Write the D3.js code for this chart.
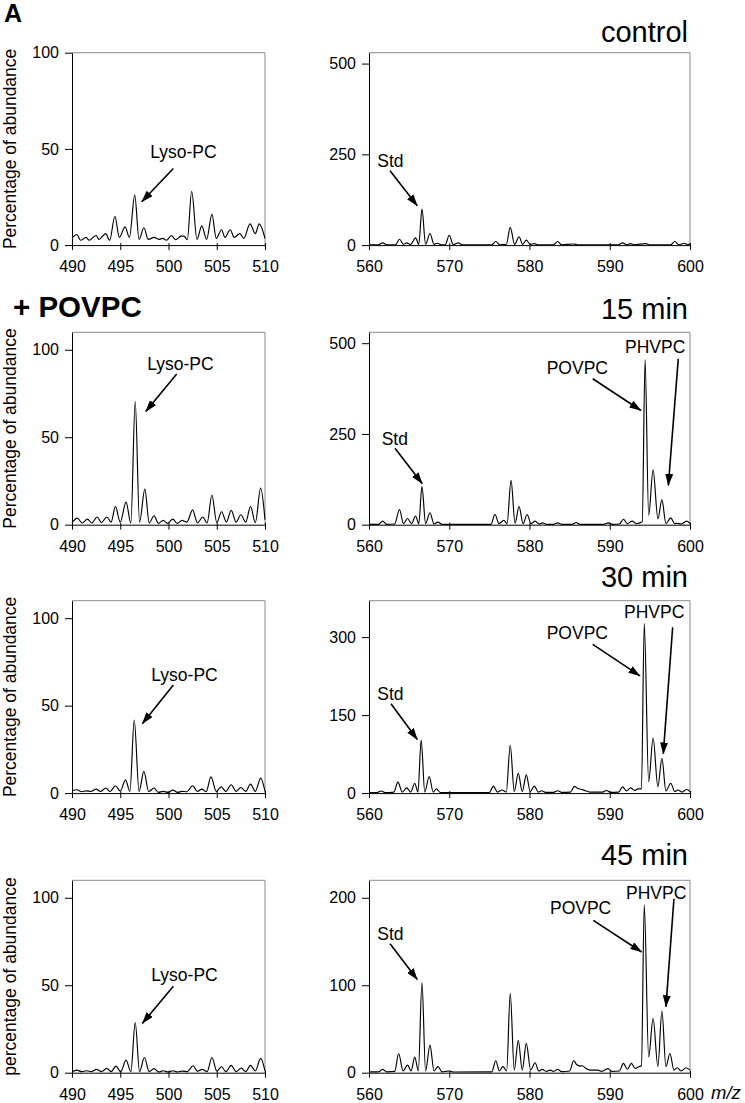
<!DOCTYPE html>
<html><head><meta charset="utf-8">
<script src="https://cdn.jsdelivr.net/npm/d3@7"></script>
<style>
body{margin:0;background:#fff}
svg{display:block}
text{font-family:"Liberation Sans",Arial,Helvetica,sans-serif;fill:#000}
</style>
</head><body>
<svg id="chart" width="745" height="1103"></svg>
<script>
// ---------------- data ----------------
const leftXTicks = [490, 495, 500, 505, 510];
const rightXTicks = [560, 570, 580, 590, 600];
const leftYTicks = [0, 50, 100];
const rightYTicksControl = [0, 250, 500];
const rightYTicks15 = [0, 250, 500];
const rightYTicks30 = [0, 150, 300];
const rightYTicks45 = [0, 100, 200];
const leftYMax = [100, 110, 110, 110];
const rightYMax = [530, 530, 370, 220];
const panelTitles = ["control", "15 min", "30 min", "45 min"];
const yAxisLabels = ["Percentage of abundance", "Percentage of abundance", "Percentage of abundance", "percentage of abundance"];

// spectra: [m/z, abundance] (apexes and valleys)
const lysoControl = [[490,3.5],[490.5,5.5],[490.9,2.5],[491.45,4],[491.8,2.5],[492.3,4.5],[492.5,5],[492.8,3],[493.5,6],[493.9,2.5],[494.45,15],[494.9,4],[495.5,9.5],[495.95,4],[496.5,26],[496.95,3],[497.45,9],[497.9,3],[498.5,4],[499,3],[499.4,3.5],[499.8,2.5],[500.3,5],[500.75,2.8],[501.3,4.7],[501.6,4.7],[501.95,2.8],[502.4,28],[502.95,3],[503.45,10],[503.95,3],[504.5,16],[504.95,3.5],[505.5,8],[505.85,4],[506.4,8],[506.8,4],[507.4,6],[507.8,3.5],[508.45,11],[509.0,6],[509.4,11],[510,3.5]];
const lyso15 = [[490,1],[490.55,3.8],[491.05,1],[491.6,3.2],[492.05,1],[492.6,4.4],[493.05,1.2],[493.6,4.4],[494.05,1.5],[494.5,10.4],[495.0,1.5],[495.6,12.9],[496.1,1],[496.55,70.6],[497.0,1.5],[497.55,20.3],[498.0,1],[498.5,5.1],[498.95,0.8],[499.45,2.5],[499.9,0.8],[500.45,3.2],[500.9,0.8],[501.4,2.5],[501.9,1.5],[502.5,8.5],[503.0,1],[503.55,4.4],[504.0,1],[504.5,17],[505.0,1.2],[505.5,7.4],[506.0,1.5],[506.5,8.2],[507.0,1.5],[507.5,5.7],[508.0,1.5],[508.5,10.4],[509.0,1.2],[509.55,20.9],[510,2.8]];
const lyso30 = [[490,1.3],[490.5,1.9],[491,0.8],[491.5,1.3],[491.95,0.9],[492.5,2.3],[492.95,0.9],[493.5,2.9],[493.95,0.9],[494.5,4.2],[495.0,1.2],[495.55,7.6],[496.0,1],[496.45,41.8],[496.95,1],[497.45,12.4],[497.95,0.9],[498.5,2.9],[498.95,0.4],[499.45,1],[499.95,0.4],[500.45,1.7],[500.95,0.4],[501.4,1],[501.9,0.8],[502.5,4.2],[503.0,0.9],[503.45,2.3],[503.9,0.8],[504.4,9.3],[504.95,1],[505.45,3.6],[505.95,1],[506.5,4.8],[507.0,1],[507.5,3.2],[508.0,1],[508.5,5.1],[509.0,1],[509.55,8.6],[510,1]];
const lyso45 = [[490,0.6],[490.5,1.5],[491,0.6],[491.5,1.1],[492,0.6],[492.55,1.9],[493.05,0.6],[493.6,2.5],[494.05,0.6],[494.55,3.8],[495.05,0.6],[495.6,7.2],[496.1,0.6],[496.55,28.7],[497.0,0.6],[497.5,8.7],[498.0,0.6],[498.5,2.3],[499.0,0.4],[499.45,1.1],[499.95,0.4],[500.45,1.1],[500.95,0.4],[501.45,0.9],[501.95,0.6],[502.55,4],[503.0,0.8],[503.5,1.9],[504.0,0.6],[504.5,8.7],[505.0,1],[505.5,3.4],[505.95,0.6],[506.5,4.2],[507.0,0.6],[507.55,2.7],[508.0,0.6],[508.5,4.2],[509.0,1],[509.55,8.2],[510,1]];

const pcControl = [[560,1],[561.2,1],[561.7,6],[562.2,1],[563.3,1],[563.8,16],[564.3,2],[564.7,6],[565.2,2],[565.8,20],[566.2,2],[566.6,99],[567.05,2],[567.6,32],[568.1,2],[568.5,5],[569,1],[569.5,1],[570.0,27],[570.5,1],[571.1,6],[571.6,1],[575.3,1],[575.8,10],[576.3,1],[576.8,2],[577.1,1],[577.6,49],[578.15,2],[578.7,23],[579.15,2],[579.6,14],[580.1,2],[580.6,4],[581.1,1],[583,1],[583.5,10],[584,1],[585.5,3],[586,1],[591.1,1],[591.6,6],[592.1,1],[592.6,4],[593,1],[594.5,4],[595,1],[597.6,1],[598.1,10],[598.6,1],[599.3,5],[599.7,1],[600,4]];
const pc15 = [[560,1],[561.2,1],[561.7,10],[562.2,1],[563.2,2],[563.8,42],[564.3,3],[564.8,17],[565.3,3],[565.8,24],[566.2,3],[566.6,105],[567.05,3],[567.6,33],[568.1,2],[568.6,7],[569.1,1],[575.2,1],[575.7,28],[576.2,3],[576.8,12],[577.2,3],[577.7,122],[578.2,4],[578.7,50],[579.2,3],[579.7,28],[580.2,3],[580.7,10],[581.2,2],[581.6,5],[582.1,1],[583,1],[583.5,5],[584,1],[585.3,1],[585.8,6],[586.3,1],[589.3,1],[589.8,5],[590.3,1],[591.2,2],[591.7,15],[592.2,3],[592.8,10],[593.3,3],[594.05,8],[594.4,454],[594.85,26],[595.4,151],[596.0,16],[596.5,69],[597.0,3],[597.6,19],[598.1,3],[598.4,4],[598.9,2],[599.6,10],[600,3]];
const pc30 = [[560,1],[561,1],[561.5,4],[562,1],[563.1,2],[563.6,21],[564.15,2],[564.7,10],[565.2,2],[565.7,19],[566.1,2],[566.5,102],[566.95,2],[567.5,32],[568,2],[568.4,8],[568.9,1],[575,1],[575.5,13.5],[576.0,2],[576.6,6],[577.1,2],[577.6,92],[578.1,3],[578.6,38],[579.1,3],[579.6,35],[580.1,3],[580.6,13.5],[581.1,2],[581.5,4.5],[582,1.5],[583,1.5],[583.5,4.5],[584,1.5],[585.1,2],[585.6,13],[586,9],[586.3,8],[587,4.5],[587.5,2],[589.1,2],[589.6,5],[590.1,1.5],[591.1,2],[591.6,12],[592.1,4],[592.6,10],[593.1,5],[593.5,8],[593.95,8],[594.3,326],[594.85,22],[595.4,106],[596.0,12],[596.5,67],[597.0,4],[597.6,19],[598.1,3],[598.5,6],[599,2],[599.6,7],[600,3]];
const pc45 = [[560,1],[561.2,1],[561.7,3.8],[562.2,1],[563.2,1.5],[563.7,21.7],[564.25,2],[564.8,8.8],[565.25,2],[565.7,18],[566.15,2],[566.6,103],[567.05,2],[567.6,31.6],[568.1,2],[568.6,6.9],[569.1,1],[569.6,1.5],[570,2],[570.5,0.8],[575.3,1],[575.8,13.7],[576.25,2],[576.7,6.9],[577.15,2],[577.6,90.7],[578.1,3],[578.6,37],[579.1,3],[579.6,33.5],[580.15,3],[580.7,11.4],[581.15,2],[581.6,3.8],[582.1,1.5],[582.6,3],[583.0,1.5],[583.5,3.8],[584,1.2],[585.0,2],[585.5,13.7],[585.9,9],[586.3,7.6],[586.6,8],[587,5],[587.6,3],[588.5,3],[589,1.5],[589.8,4.6],[590.3,1.5],[591.2,2],[591.7,10.7],[592.2,4],[592.7,10.7],[593.15,5],[593.6,6.9],[593.95,8],[594.3,192],[594.85,18],[595.4,62],[596.0,7],[596.5,70.5],[597.0,7],[597.5,22],[598.0,3],[598.4,5.7],[598.9,2],[599.5,5.7],[600,3]];

// annotations: [label, textMz, textVal, fromMz, fromVal, toMz, toVal]
const lysoNotes = [
  ["Lyso-PC", 501.55, 45.2, 500.5, 39.8, 497.22, 22.5],
  ["Lyso-PC", 501.24, 88.7, 500.85, 86.2, 497.64, 64.7],
  ["Lyso-PC", 501.66, 64.1, 500.5, 61.8, 497.29, 39.7],
  ["Lyso-PC", 501.66, 52.5, 500.5, 49.4, 497.29, 28.2]
];
const stdNotes = [
  ["Std", 561.03, 215.5, 562.62, 204.5, 566.02, 108.2],
  ["Std", 561.58, 218.3, 563.24, 210.9, 566.64, 112.9],
  ["Std", 561.03, 178.4, 562.74, 172, 566.02, 103],
  ["Std", 561.03, 151.3, 562.62, 147.5, 566.02, 106.5]
];
const povpcNotes = [
  null,
  ["POVPC", 582.14, 413.8, 587.88, 402, 593.89, 314.7],
  ["POVPC", 582.14, 295.8, 587.88, 286, 593.77, 225.4],
  ["POVPC", 582.55, 181, 587.95, 174.1, 593.98, 138]
];
const phvpcNotes = [
  null,
  ["PHVPC", 591.9, 472.5, 598.54, 457, 597.3, 108.2],
  ["PHVPC", 591.78, 336.4, 597.84, 319, 596.67, 75.4],
  ["PHVPC", 592.03, 198.9, 598.0, 198.9, 597.0, 75.3]
];

const leftSpectra = [lysoControl, lyso15, lyso30, lyso45];
const rightSpectra = [pcControl, pc15, pc30, pc45];
const rightYTicks = [rightYTicksControl, rightYTicks15, rightYTicks30, rightYTicks45];

// ---------------- layout ----------------
const rowTop = [52.7, 332.3, 600.7, 880.3];
const panelH = 192.4;
const leftX = [72, 265];
const rightX = [369, 690];
const titleBaseline = [41.7, 318.5, 586.7, 865];

const svg = d3.select("#chart");
svg.append("defs").append("marker")
  .attr("id", "ah").attr("markerUnits", "userSpaceOnUse")
  .attr("viewBox", "0 0 12 8").attr("markerWidth", 12).attr("markerHeight", 8)
  .attr("refX", 11.5).attr("refY", 4).attr("orient", "auto")
  .append("path").attr("d", "M0,0 L12,4 L0,8 Z").attr("fill", "#000");

const line = (x, y) => d3.line().x(d => x(d[0])).y(d => y(d[1])).curve(d3.curveMonotoneX);

function panel(g, xRange, xDomain, xTicks, yMax, yTicks, data, notes, top) {
  const x = d3.scaleLinear().domain(xDomain).range(xRange);
  const y = d3.scaleLinear().domain([0, yMax]).range([top + panelH, top]);
  g.append("path")
    .attr("d", `M${xRange[0]},${top}H${xRange[1]}V${top + panelH}`)
    .attr("fill", "none").attr("stroke", "#8a8a8a").attr("stroke-width", 1);
  g.append("path").datum(data).attr("d", line(x, y))
    .attr("fill", "none").attr("stroke", "#000").attr("stroke-width", 1.15);
  const ya = g.append("g").attr("transform", `translate(${xRange[0]},0)`)
    .call(d3.axisLeft(y).tickValues(yTicks).tickSize(7).tickPadding(6).tickSizeOuter(0));
  ya.select(".domain").attr("stroke", "#000");
  ya.selectAll("text").style("font-size", "16px").attr("font-family", null);
  const xa = g.append("g").attr("transform", `translate(0,${top + panelH})`)
    .call(d3.axisBottom(x).tickValues(xTicks).tickSize(5).tickSizeOuter(0));
  xa.selectAll(".tick line").attr("y1", -2).attr("y2", 5);
  xa.selectAll("text").attr("y", 16).style("font-size", "16px").attr("font-family", null);
  notes.filter(n => n).forEach(n => {
    const anchor = n[0] === "Lyso-PC" ? "middle" : "start";
    g.append("text").attr("x", x(n[1])).attr("y", y(n[2]))
      .attr("text-anchor", anchor).style("font-size", "17.5px").text(n[0]);
    g.append("line")
      .attr("x1", x(n[3])).attr("y1", y(n[4]))
      .attr("x2", x(n[5])).attr("y2", y(n[6]))
      .attr("stroke", "#000").attr("stroke-width", 1.6)
      .attr("marker-end", "url(#ah)");
  });
}

for (let r = 0; r < 4; r++) {
  const top = rowTop[r];
  const g = svg.append("g");
  panel(g, leftX, [490, 510], leftXTicks, leftYMax[r], leftYTicks, leftSpectra[r], [lysoNotes[r]], top);
  panel(g, rightX, [560, 600], rightXTicks, rightYMax[r], rightYTicks[r], rightSpectra[r], [stdNotes[r], povpcNotes[r], phvpcNotes[r]], top);
  svg.append("text")
    .attr("transform", `translate(16,${top + panelH / 2}) rotate(-90)`)
    .attr("text-anchor", "middle").style("font-size", "17.5px").text(yAxisLabels[r]);
  svg.append("text").attr("x", 688).attr("y", titleBaseline[r])
    .attr("text-anchor", "end").style("font-size", "29px").text(panelTitles[r]);
}

svg.append("text").attr("x", 4).attr("y", 22)
  .style("font-size", "25px").style("font-weight", "bold").text("A");
svg.append("text").attr("x", 13).attr("y", 316.7)
  .style("font-size", "29.5px").style("font-weight", "bold").text("+ POVPC");
svg.append("text").attr("x", 711).attr("y", 1099)
  .style("font-size", "18.5px").style("font-style", "italic").text("m/z");
</script>
</body></html>
